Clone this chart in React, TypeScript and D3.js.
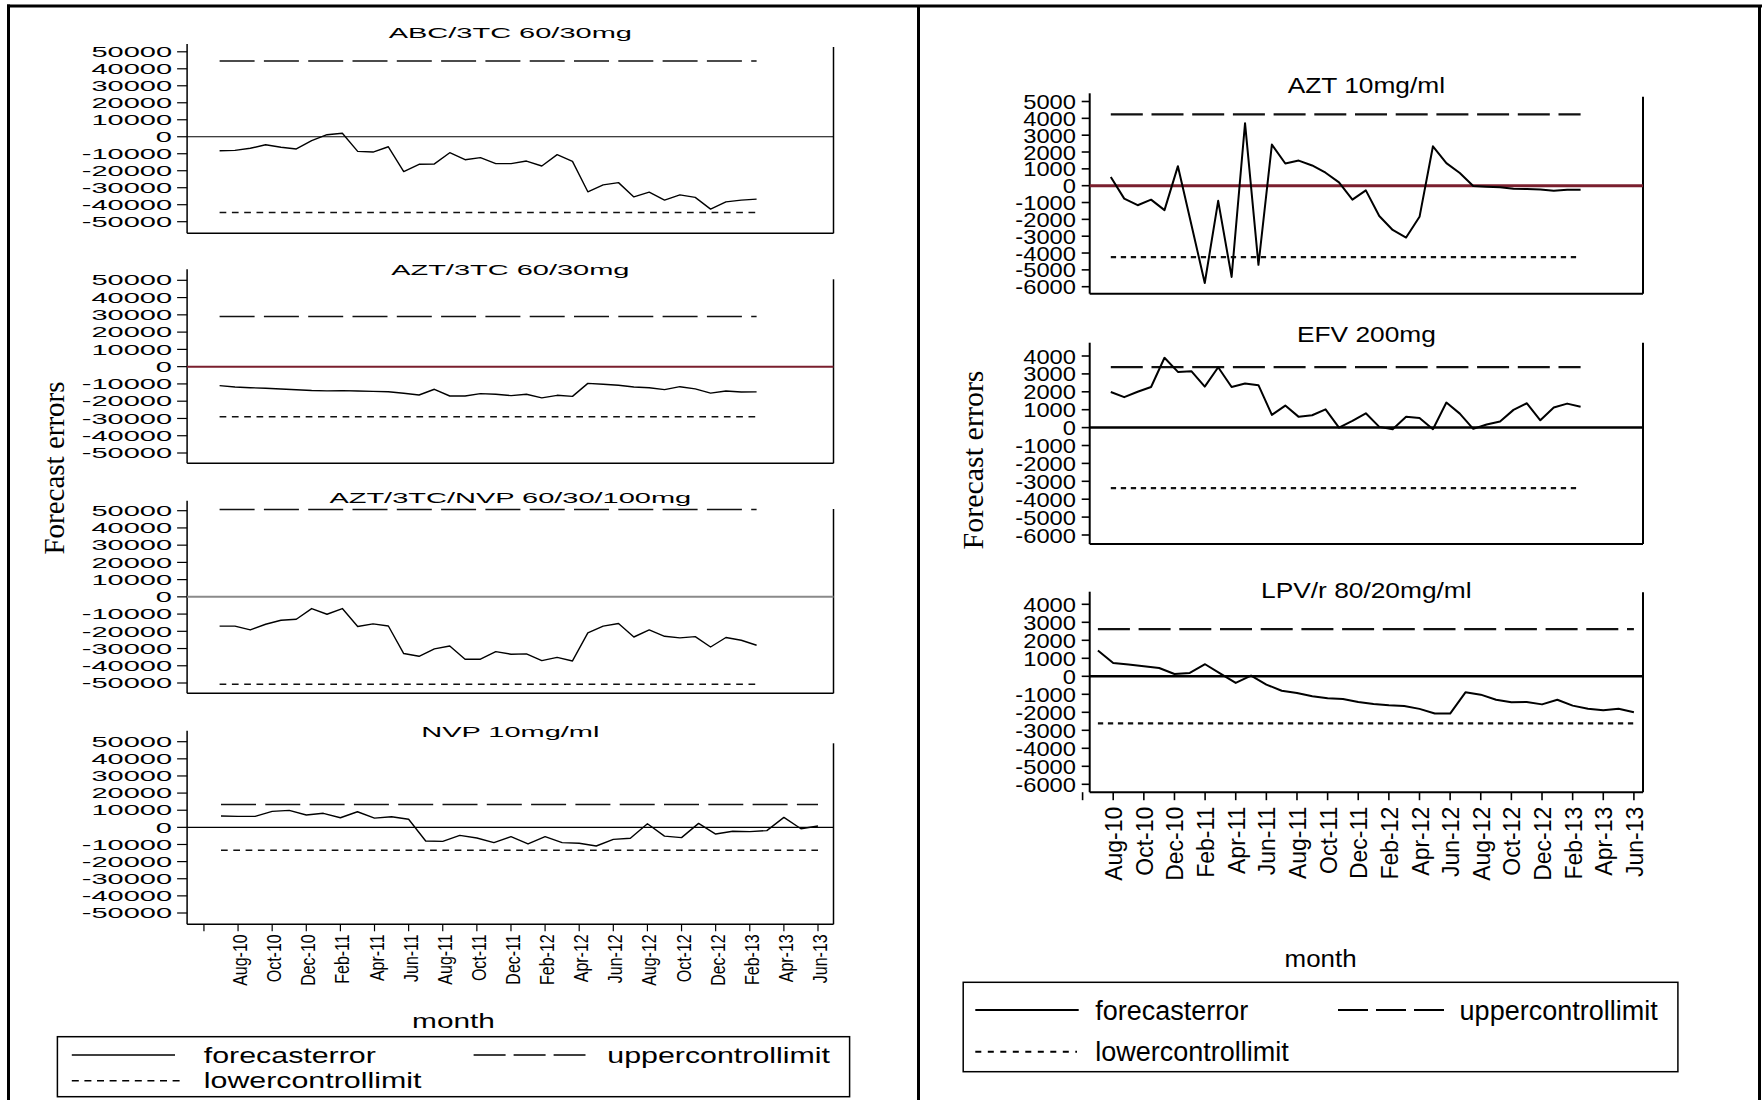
import React from "react";
import * as d3 from "d3";

// ---- data -------------------------------------------------------------
// One forecast error per month, Jul-10 .. Jun-13
const months = [
  "Jul-10", "Aug-10", "Sep-10", "Oct-10", "Nov-10", "Dec-10",
  "Jan-11", "Feb-11", "Mar-11", "Apr-11", "May-11", "Jun-11",
  "Jul-11", "Aug-11", "Sep-11", "Oct-11", "Nov-11", "Dec-11",
  "Jan-12", "Feb-12", "Mar-12", "Apr-12", "May-12", "Jun-12",
  "Jul-12", "Aug-12", "Sep-12", "Oct-12", "Nov-12", "Dec-12",
  "Jan-13", "Feb-13", "Mar-13", "Apr-13", "May-13", "Jun-13",
];

// x-axis tick marks every two months; the first one carries no label
const axisTickMonths = [
  "Jun-10", "Aug-10", "Oct-10", "Dec-10", "Feb-11", "Apr-11", "Jun-11",
  "Aug-11", "Oct-11", "Dec-11", "Feb-12", "Apr-12", "Jun-12", "Aug-12",
  "Oct-12", "Dec-12", "Feb-13", "Apr-13", "Jun-13",
];
const unlabeledTickMonths = ["Jun-10"];

const yTicksLarge = [50000, 40000, 30000, 20000, 10000, 0, -10000, -20000, -30000, -40000, -50000];
const yTicksAztSyrup = [5000, 4000, 3000, 2000, 1000, 0, -1000, -2000, -3000, -4000, -5000, -6000];
const yTicksSmall = [4000, 3000, 2000, 1000, 0, -1000, -2000, -3000, -4000, -5000, -6000];

const errAbc3tc = [
  -8200, -8000, -6800, -4700, -6200, -7200, -2300, 1200, 2100, -8600,
  -9000, -5900, -20500, -16200, -16000, -9400, -13500, -12300, -15800, -15800,
  -14300, -17200, -10500, -14500, -32400, -28300, -27000, -35400, -32600, -37300,
  -34200, -35700, -42600, -38300, -37300, -36700,
];
const errAzt3tc = [
  -11000, -11800, -12200, -12500, -12900, -13400, -13800, -14000, -13900, -14100,
  -14300, -14500, -15400, -16400, -13100, -17000, -17000, -15600, -16000, -16800,
  -16000, -18100, -16600, -17200, -9700, -10200, -10800, -11800, -12200, -13300,
  -11600, -12900, -15300, -14100, -14700, -14600,
];
const errAzt3tcNvp = [
  -17000, -17000, -19200, -15900, -13600, -13000, -6800, -10100, -6800, -17200,
  -15700, -16900, -32900, -34500, -30200, -28500, -36200, -36200, -31800, -33300,
  -33100, -37000, -35100, -37200, -20900, -17000, -15500, -23300, -19200, -22900,
  -23800, -23100, -29100, -23600, -25200, -28100,
];
const errNvp = [
  6600, 6400, 6400, 9300, 9900, 7200, 8200, 5600, 9100, 5400,
  6200, 4700, -8000, -8200, -4700, -6200, -8900, -5400, -9700, -5400,
  -8900, -9300, -10900, -7000, -6400, 2100, -5100, -6000, 2300, -3900,
  -2300, -2500, -1900, 5800, -800, 800,
];
const errAztSyrup = [
  510, -770, -1160, -830, -1450, 1160, -2300, -5780, -900, -5420,
  3710, -4700, 2440, 1320, 1490, 1200, 770, 200, -830, -280,
  -1800, -2630, -3080, -1850, 2340, 1340, 750, -20, -60, -100,
  -180, -200, -220, -300, -240, -240,
];
const errEfv = [
  1990, 1700, 2000, 2270, 3900, 3110, 3150, 2290, 3370, 2270,
  2460, 2370, 710, 1230, 600, 690, 1020, 0, 370, 800,
  40, -90, 610, 540, -90, 1400, 780, -70, 170, 340,
  990, 1360, 410, 1120, 1340, 1170,
];
const errLpvr = [
  1430, 740, 650, 560, 460, 130, 190, 670, 150, -370,
  40, -460, -800, -930, -1110, -1220, -1260, -1430, -1540, -1610,
  -1650, -1810, -2070, -2070, -890, -1020, -1300, -1440, -1430, -1560,
  -1300, -1630, -1800, -1890, -1800, -2000,
];

const panelTitles = [
  "ABC/3TC 60/30mg", "AZT/3TC 60/30mg", "AZT/3TC/NVP 60/30/100mg", "NVP 10mg/ml",
  "AZT 10mg/ml", "EFV 200mg", "LPV/r 80/20mg/ml",
];
const upperLimits = [44600, 29000, 50700, 13350, 4240, 3380, 2620];
const lowerLimits = [-44600, -29000, -50700, -13350, -4240, -3380, -2620];

const legendLabels = ["forecasterror", "uppercontrollimit", "lowercontrollimit"];
const xAxisTitle = "month";
const yAxisTitle = "Forecast errors";

// ---- styling ----------------------------------------------------------
const SANS = "'Liberation Sans', Arial, Helvetica, sans-serif";
const SERIF = "'Liberation Serif', 'Times New Roman', serif";
const MAROON = "#7a1f2e";

type SideStyle = {
  axisX0: number; axisX1: number; tickLen: number; labelRight: number;
  tickFont: number; tickSx: number; titleFont: number; titleSx: number;
  dataW: number; axisW: number; limitW: number; upperDash: string; lowerDash: string;
  xlabFont: number; xlabThick: number; xTickLen: number; xlabGap: number; xlabOffset: number;
};

const leftStyle: SideStyle = {
  axisX0: 187.1, axisX1: 833.5, tickLen: 10, labelRight: 172,
  tickFont: 14.5, tickSx: 2.0, titleFont: 14.5, titleSx: 2.0,
  dataW: 1.4, axisW: 1.5, limitW: 1.4, upperDash: "35 9.3", lowerDash: "6.7 5.6",
  xlabFont: 16, xlabThick: 1.31, xTickLen: 7, xlabGap: 3, xlabOffset: 9,
};
const rightStyle: SideStyle = {
  axisX0: 1089.7, axisX1: 1643, tickLen: 8, labelRight: 1076,
  tickFont: 21, tickSx: 1.13, titleFont: 22.5, titleSx: 1.17,
  dataW: 2, axisW: 2, limitW: 2.2, upperDash: "32 8.7", lowerDash: "5.3 4.7",
  xlabFont: 23, xlabThick: 1.03, xTickLen: 8, xlabGap: 6.5, xlabOffset: 9,
};

type PanelCfg = {
  idx: number; values: number[]; yTicks: number[]; side: "L" | "R";
  titleBase: number; yPx: [number, number]; axisTop: number; rightTop: number; bottom: number;
  xRange: [number, number]; zero: { color: string; w: number }; xAxis: boolean;
};

const panels: PanelCfg[] = [
  { idx: 0, values: errAbc3tc, yTicks: yTicksLarge, side: "L", titleBase: 38, yPx: [51.8, 221.7], axisTop: 44, rightTop: 47, bottom: 233.3, xRange: [219.6, 756.6], zero: { color: "#000", w: 1.2 }, xAxis: false },
  { idx: 1, values: errAzt3tc, yTicks: yTicksLarge, side: "L", titleBase: 275, yPx: [280.3, 453], axisTop: 269.3, rightTop: 279.3, bottom: 463.3, xRange: [219.6, 756.6], zero: { color: MAROON, w: 2 }, xAxis: false },
  { idx: 2, values: errAzt3tcNvp, yTicks: yTicksLarge, side: "L", titleBase: 502.7, yPx: [510.7, 683], axisTop: 500.7, rightTop: 509, bottom: 693.3, xRange: [219.6, 756.6], zero: { color: "#8a8a8a", w: 2 }, xAxis: false },
  { idx: 3, values: errNvp, yTicks: yTicksLarge, side: "L", titleBase: 736.7, yPx: [741.7, 913], axisTop: 730.7, rightTop: 743.3, bottom: 924.3, xRange: [221, 818], zero: { color: "#000", w: 1.2 }, xAxis: true },
  { idx: 4, values: errAztSyrup, yTicks: yTicksAztSyrup, side: "R", titleBase: 93, yPx: [101.5, 286.7], axisTop: 93.3, rightTop: 96.7, bottom: 293.7, xRange: [1110.8, 1580.6], zero: { color: MAROON, w: 3 }, xAxis: false },
  { idx: 5, values: errEfv, yTicks: yTicksSmall, side: "R", titleBase: 341.7, yPx: [356, 535], axisTop: 342.7, rightTop: 342.7, bottom: 544, xRange: [1110.8, 1580.6], zero: { color: "#000", w: 2.5 }, xAxis: false },
  { idx: 6, values: errLpvr, yTicks: yTicksSmall, side: "R", titleBase: 598, yPx: [604.3, 784.3], axisTop: 591.7, rightTop: 592.3, bottom: 792.2, xRange: [1097.9, 1633.9], zero: { color: "#000", w: 2.5 }, xAxis: true },
];

const parseMonth = d3.timeParse("%b-%y");
const monthIndex = (label: string) => {
  const d = parseMonth(label) as Date;
  return (d.getFullYear() - 2010) * 12 + d.getMonth() - 6;
};

function Panel({ cfg }: { cfg: PanelCfg }) {
  const st = cfg.side === "L" ? leftStyle : rightStyle;
  const x = d3.scaleLinear().domain([0, months.length - 1]).range(cfg.xRange);
  const y = d3
    .scaleLinear()
    .domain([cfg.yTicks[0], cfg.yTicks[cfg.yTicks.length - 1]])
    .range(cfg.yPx);
  const line = d3
    .line<number>()
    .x((_, i) => x(i))
    .y((d) => y(d));
  const limitLine = (v: number) => line(months.map(() => v)) as string;
  const titleCx = (st.axisX0 + st.axisX1) / 2;

  return (
    <g>
      <text
        transform={`translate(${titleCx},${cfg.titleBase}) scale(${st.titleSx},1)`}
        textAnchor="middle"
        fontFamily={SANS}
        fontSize={st.titleFont}
      >
        {panelTitles[cfg.idx]}
      </text>

      {/* y axis with ticks and labels */}
      <line x1={st.axisX0} x2={st.axisX0} y1={cfg.axisTop} y2={cfg.bottom} stroke="#000" strokeWidth={st.axisW} />
      {cfg.yTicks.map((t) => (
        <g key={t}>
          <line x1={st.axisX0 - st.tickLen} x2={st.axisX0} y1={y(t)} y2={y(t)} stroke="#000" strokeWidth={st.axisW * 0.8} />
          <text
            transform={`translate(${st.labelRight},${y(t) + st.tickFont * 0.358}) scale(${st.tickSx},1)`}
            textAnchor="end"
            fontFamily={SANS}
            fontSize={st.tickFont}
          >
            {String(t)}
          </text>
        </g>
      ))}

      {/* right border and bottom axis */}
      <line x1={st.axisX1} x2={st.axisX1} y1={cfg.rightTop} y2={cfg.bottom} stroke="#000" strokeWidth={st.axisW} />
      <line x1={st.axisX0} x2={st.axisX1} y1={cfg.bottom} y2={cfg.bottom} stroke="#000" strokeWidth={st.axisW} />

      {/* zero reference line */}
      <line x1={st.axisX0} x2={st.axisX1} y1={y(0)} y2={y(0)} stroke={cfg.zero.color} strokeWidth={cfg.zero.w} />

      {/* control limits */}
      <path d={limitLine(upperLimits[cfg.idx])} fill="none" stroke="#111" strokeWidth={st.limitW} strokeDasharray={st.upperDash} />
      <path d={limitLine(lowerLimits[cfg.idx])} fill="none" stroke="#111" strokeWidth={st.limitW} strokeDasharray={st.lowerDash} />

      {/* forecast errors */}
      <path d={line(cfg.values) as string} fill="none" stroke="#000" strokeWidth={st.dataW} strokeLinejoin="round" />

      {cfg.xAxis &&
        axisTickMonths.map((m) => {
          const tx = x(monthIndex(m));
          const top = cfg.bottom + st.xTickLen + st.xlabGap;
          return (
            <g key={m}>
              <line x1={tx} x2={tx} y1={cfg.bottom} y2={cfg.bottom + st.xTickLen} stroke="#000" strokeWidth={st.axisW * 0.8} />
              {!unlabeledTickMonths.includes(m) && (
                <text
                  transform={`translate(${tx + st.xlabOffset},${top}) rotate(-90) scale(1,${st.xlabThick})`}
                  textAnchor="end"
                  fontFamily={SANS}
                  fontSize={st.xlabFont}
                >
                  {m}
                </text>
              )}
            </g>
          );
        })}
    </g>
  );
}

type LegendCfg = {
  box: [number, number, number, number];
  solid: [number, number, number];
  dashed: [number, number, number];
  dotted: [number, number, number];
  text1: [number, number];
  text2: [number, number];
  text3: [number, number];
  font: number; sx: number; w: number; dash: string; dot: string;
};

function Legend({ c }: { c: LegendCfg }) {
  const [bx0, by0, bx1, by1] = c.box;
  const t = (pos: [number, number], s: string) => (
    <text transform={`translate(${pos[0]},${pos[1]}) scale(${c.sx},1)`} fontFamily={SANS} fontSize={c.font}>
      {s}
    </text>
  );
  return (
    <g>
      <rect x={bx0} y={by0} width={bx1 - bx0} height={by1 - by0} fill="#fff" stroke="#000" strokeWidth={1.5} />
      <line x1={c.solid[0]} x2={c.solid[1]} y1={c.solid[2]} y2={c.solid[2]} stroke="#000" strokeWidth={c.w} />
      <line x1={c.dashed[0]} x2={c.dashed[1]} y1={c.dashed[2]} y2={c.dashed[2]} stroke="#000" strokeWidth={c.w} strokeDasharray={c.dash} />
      <line x1={c.dotted[0]} x2={c.dotted[1]} y1={c.dotted[2]} y2={c.dotted[2]} stroke="#000" strokeWidth={c.w} strokeDasharray={c.dot} />
      {t(c.text1, legendLabels[0])}
      {t(c.text2, legendLabels[1])}
      {t(c.text3, legendLabels[2])}
    </g>
  );
}

const leftLegend: LegendCfg = {
  box: [57.4, 1036.7, 849.6, 1096.7],
  solid: [71.8, 175, 1055], dashed: [473.6, 585.5, 1055], dotted: [71.8, 183.7, 1080.7],
  text1: [203.8, 1062.7], text2: [607.3, 1062.7], text3: [203.8, 1088.3],
  font: 22, sx: 1.38, w: 1.5, dash: "32 8", dot: "7 5.6",
};
const rightLegend: LegendCfg = {
  box: [963.2, 982.3, 1677.9, 1071.7],
  solid: [975.3, 1078.7, 1010], dashed: [1338, 1444.3, 1010], dotted: [975.3, 1077, 1051.7],
  text1: [1095.2, 1019.5], text2: [1459.6, 1019.5], text3: [1095.2, 1061],
  font: 27, sx: 1.0, w: 2, dash: "30 8", dot: "6 6.5",
};

export default function App() {
  return (
    <svg
      width={1762}
      height={1100}
      viewBox="0 0 1762 1100"
      style={{ position: "absolute", left: 0, top: 0, background: "#fff" }}
    >
      <rect x={0} y={0} width={1762} height={1100} fill="#fff" />

      {/* outer frames of the two figures */}
      <line x1={8.5} x2={8.5} y1={4.5} y2={1100} stroke="#000" strokeWidth={3} />
      <line x1={7} x2={1762} y1={6} y2={6} stroke="#000" strokeWidth={3} />
      <line x1={918.5} x2={918.5} y1={6} y2={1100} stroke="#000" strokeWidth={3} />
      <line x1={1759.5} x2={1759.5} y1={6} y2={1100} stroke="#000" strokeWidth={3} />

      {panels.map((p) => (
        <Panel key={p.idx} cfg={p} />
      ))}

      {/* y axis titles */}
      <text transform="translate(64,468) rotate(-90)" textAnchor="middle" fontFamily={SERIF} fontSize={29}>
        {yAxisTitle}
      </text>
      <text transform="translate(982.5,460) rotate(-90)" textAnchor="middle" fontFamily={SERIF} fontSize={30}>
        {yAxisTitle}
      </text>

      {/* x axis titles */}
      <text transform="translate(453.5,1028.3) scale(1.42,1)" textAnchor="middle" fontFamily={SANS} fontSize={21}>
        {xAxisTitle}
      </text>
      <text transform="translate(1320.6,966.7) scale(1.08,1)" textAnchor="middle" fontFamily={SANS} fontSize={24}>
        {xAxisTitle}
      </text>

      <Legend c={leftLegend} />
      <Legend c={rightLegend} />
    </svg>
  );
}
